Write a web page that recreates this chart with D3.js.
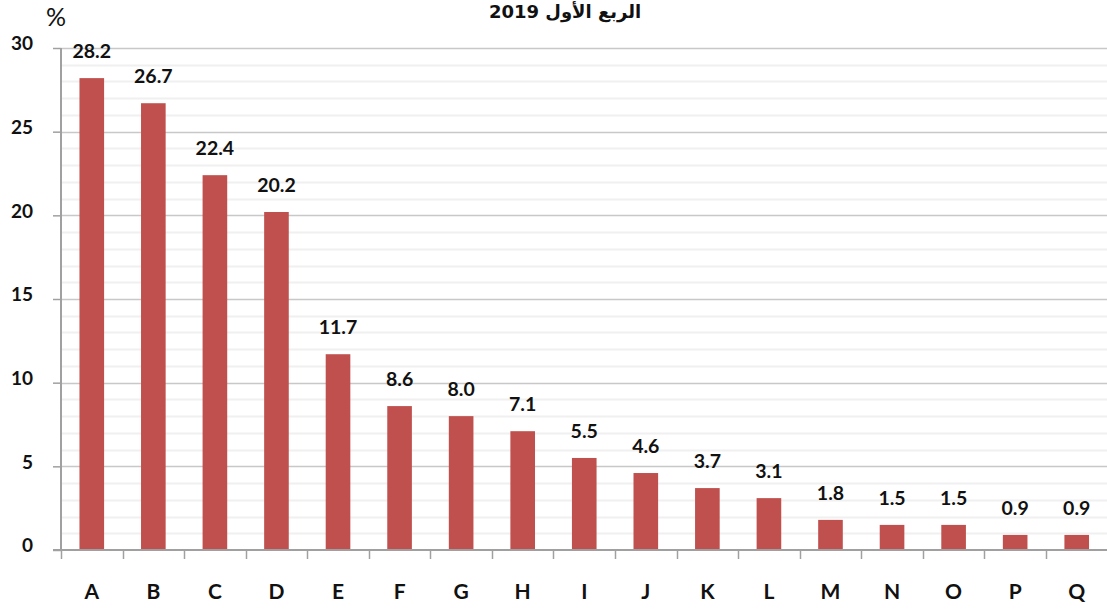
<!DOCTYPE html>
<html>
<head>
<meta charset="utf-8">
<script src="https://cdn.jsdelivr.net/npm/d3@7"></script>
<style>
  body { margin: 0; background: #fff; }
  text { font-family: "Lato", "Noto Sans", "DejaVu Sans", sans-serif; font-weight: bold; fill: #111; }
</style>
</head>
<body>
<div id="viz"></div>
<script>
var categories = ["A","B","C","D","E","F","G","H","I","J","K","L","M","N","O","P","Q"];
var values = [28.2, 26.7, 22.4, 20.2, 11.7, 8.6, 8.0, 7.1, 5.5, 4.6, 3.7, 3.1, 1.8, 1.5, 1.5, 0.9, 0.9];
var yTicks = [0, 5, 10, 15, 20, 25, 30];
var title = "الربع الأول 2019";

var margin = {top: 48, right: 0, bottom: 60, left: 61};
var width = 1107 - margin.left + 0.5,
    height = 610 - margin.top - margin.bottom;   // 502

var svg = d3.select("#viz").append("svg")
    .attr("width", 1107)
    .attr("height", 610);

var g = svg.append("g")
    .attr("transform", "translate(" + margin.left + "," + margin.top + ")");

var xScale = d3.scaleBand()
    .domain(categories)
    .range([0, width])
    .paddingInner(0.6)
    .paddingOuter(0.3);

var yScale = d3.scaleLinear()
    .domain([0, 30])
    .range([height, 0]);

// minor gridlines
g.append("g").selectAll("line")
    .data(d3.range(1, 31).filter(function(d){ return d % 5 != 0; }))
    .enter().append("line")
    .attr("x1", 0).attr("x2", width)
    .attr("y1", function(d){ return Math.round(yScale(d)) + 0.5; })
    .attr("y2", function(d){ return Math.round(yScale(d)) + 0.5; })
    .attr("stroke", "#f0f0f0")
    .attr("stroke-width", 2);

// major gridlines
g.append("g").selectAll("line")
    .data(yTicks.slice(1))
    .enter().append("line")
    .attr("x1", 0).attr("x2", width)
    .attr("y1", function(d){ return Math.round(yScale(d)) + 0.5; })
    .attr("y2", function(d){ return Math.round(yScale(d)) + 0.5; })
    .attr("stroke", "#c8c8c8")
    .attr("stroke-width", 1.5);

// bars
g.selectAll("rect.bar")
    .data(values)
    .enter().append("rect")
    .attr("class", "bar")
    .attr("x", function(d, i){ return xScale(categories[i]); })
    .attr("width", xScale.bandwidth())
    .attr("y", function(d){ return yScale(d); })
    .attr("height", function(d){ return height - yScale(d); })
    .attr("fill", "#C0504D");

// value labels
g.selectAll("text.val")
    .data(values)
    .enter().append("text")
    .attr("class", "val")
    .attr("x", function(d, i){ return xScale(categories[i]) + xScale.bandwidth() / 2; })
    .attr("y", function(d){ return yScale(d) - 20; })
    .attr("text-anchor", "middle")
    .style("font-size", "19.5px")
    .text(function(d){ return d.toFixed(1); });

// y axis
var yAxis = d3.axisLeft(yScale).tickValues(yTicks).tickSize(8).tickPadding(20);
var gy = g.append("g").call(yAxis);
gy.select(".domain").attr("stroke", "#a0a0a0").attr("stroke-width", 2).attr("d", "M0," + height + "V0");
gy.selectAll(".tick line").attr("stroke", "#a0a0a0").attr("stroke-width", 1.5);
gy.selectAll(".tick text").style("font-size", "19px").style("font-family", "Lato, 'Noto Sans', sans-serif").attr("fill", "#111").attr("dy", "0.1em");

// x axis
var gx = g.append("g").attr("transform", "translate(0," + height + ")");
gx.append("line")
    .attr("x1", -8).attr("x2", width)
    .attr("y1", 0).attr("y2", 0)
    .attr("stroke", "#a0a0a0").attr("stroke-width", 2);
gx.selectAll("line.tk")
    .data(d3.range(0, categories.length + 1))
    .enter().append("line")
    .attr("class", "tk")
    .attr("x1", function(d){ return Math.round(d * width / categories.length) + 0.5; })
    .attr("x2", function(d){ return Math.round(d * width / categories.length) + 0.5; })
    .attr("y1", 0).attr("y2", 9)
    .attr("stroke", "#a0a0a0").attr("stroke-width", 1.5);
gx.selectAll("text")
    .data(categories)
    .enter().append("text")
    .attr("x", function(d){ return xScale(d) + xScale.bandwidth() / 2; })
    .attr("y", 49)
    .attr("text-anchor", "middle")
    .style("font-size", "21px")
    .text(function(d){ return d; });

// percent sign
svg.append("text")
    .attr("x", 56).attr("y", 26)
    .attr("text-anchor", "middle")
    .style("font-size", "25px")
    .style("font-weight", "normal")
    .text("%");

// title
svg.append("text")
    .attr("x", 565).attr("y", 18)
    .attr("text-anchor", "middle")
    .style("font-size", "18px")
    .style("font-family", "'DejaVu Sans', sans-serif")
    .attr("direction", "rtl")
    .text(title);
</script>
</body>
</html>
